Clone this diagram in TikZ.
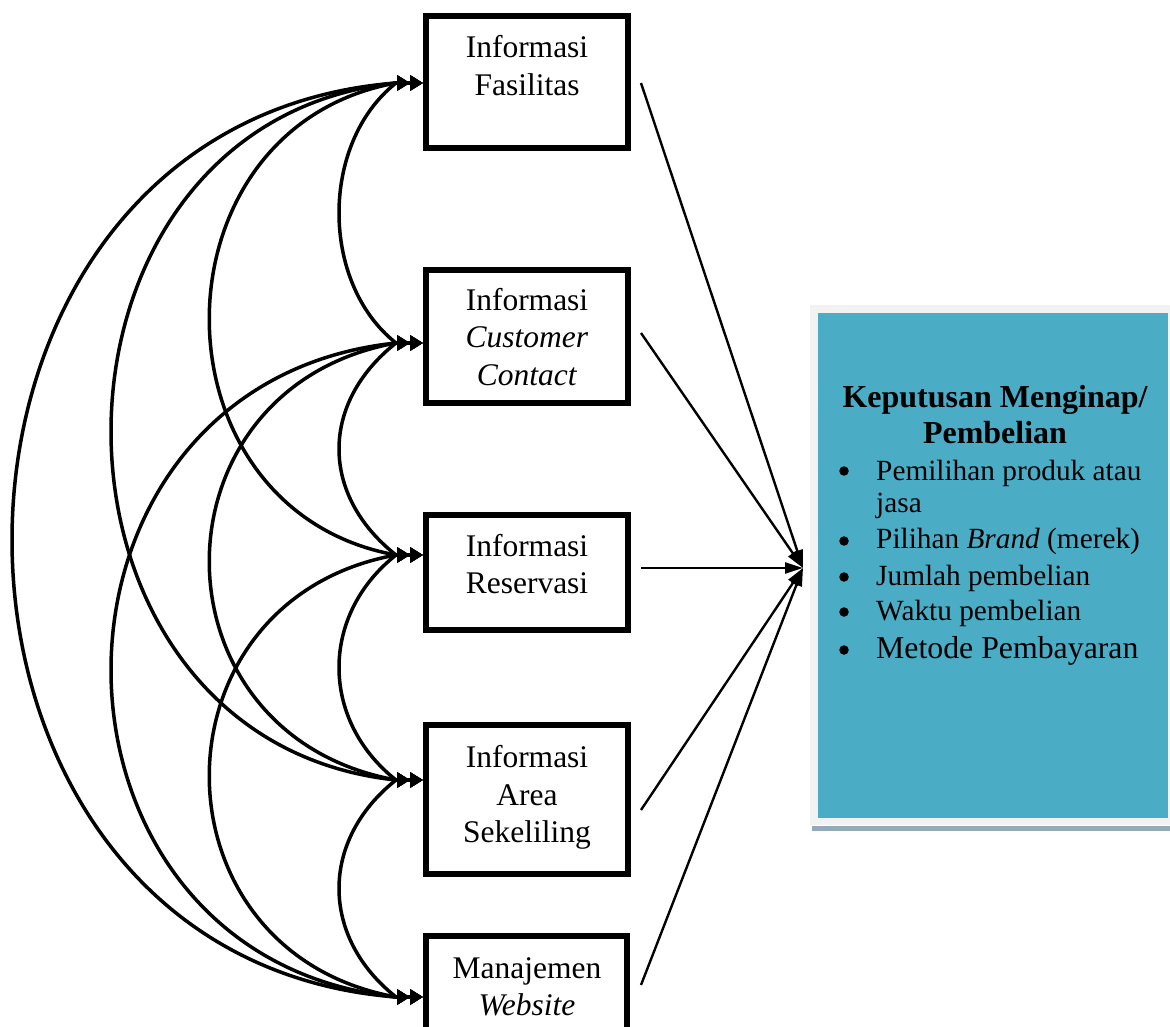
\documentclass[tikz,border=0pt]{standalone}
\usepackage{fontspec}
\setmainfont{Liberation Serif}
\usetikzlibrary{arrows.meta}
\definecolor{panelteal}{HTML}{4BACC6}
\definecolor{panelgray}{HTML}{F2F2F2}
\definecolor{panelshadow}{HTML}{93ABB8}
\tikzset{
  dbl/.tip={Triangle[length=13pt,width=15pt,sep=0pt]Triangle[length=13pt,width=15pt,sep=0pt]},
  infobox/.style={draw, line width=6pt, fill=white, inner sep=0pt},
  boxtext/.style={font=\fontsize{31.5}{37.5}\selectfont, anchor=base, inner sep=0pt},
  titletext/.style={font=\bfseries\fontsize{32}{38}\selectfont, anchor=base, inner sep=0pt},
  itemtext/.style={font=\fontsize{29.3}{35}\selectfont, anchor=base west, inner sep=0pt},
  bigitem/.style={font=\fontsize{31.8}{38}\selectfont, anchor=base west, inner sep=0pt},
  bulletdot/.style={circle, fill=black, inner sep=0pt, minimum size=9.5pt},
  corr/.style={line width=3.5pt, arrows=dbl-dbl},
  infl/.style={line width=2.4pt, -{Triangle[length=18pt,width=11pt]}},
}
\newcommand\corrarc[4]{\draw[corr] (in#1) -- (s#1) .. controls +(-#3,#4) and +(-#3,-#4) .. (s#2) -- (in#2);}
\begin{document}
\begin{tikzpicture}[x=1pt,y=-1pt]
\useasboundingbox (0,0) rectangle (1170,1027);
% right panel
\fill[panelshadow] (812,826) rectangle (1170,831);
\fill[panelgray] (810,305) rectangle (1170,825);
\node[fill=panelteal, inner sep=0pt, minimum width=350pt, minimum height=505pt, anchor=north west] (dec) at (818,313) {};
\node[titletext] (h1) at (995,407) {Keputusan Menginap/};
\node[titletext] (h2) at (995,443) {Pembelian};
\node[bulletdot] (d1) at (844,471) {};
\node[itemtext] (i1) at (876,480) {Pemilihan produk atau};
\node[itemtext] (i1b) at (876,512) {jasa};
\node[bulletdot] (d2) at (844,541) {};
\node[itemtext] (i2) at (876,548) {Pilihan \textit{Brand} (merek)};
\node[bulletdot] (d3) at (844,577) {};
\node[itemtext] (i3) at (876,585) {Jumlah pembelian};
\node[bulletdot] (d4) at (844,612) {};
\node[itemtext] (i4) at (876,620) {Waktu pembelian};
\node[bulletdot] (d5) at (844,650) {};
\node[bigitem] (i5) at (876,658) {Metode Pembayaran};
% boxes
\node[infobox, minimum width=202pt, minimum height=132pt] (b1) at (527,82) {};
\node[infobox, minimum width=202pt, minimum height=133pt] (b2) at (527,336.5) {};
\node[infobox, minimum width=202pt, minimum height=115pt] (b3) at (527,572.5) {};
\node[infobox, minimum width=202pt, minimum height=149pt] (b4) at (527,799.5) {};
\node[infobox, minimum width=201pt, minimum height=154pt] (b5) at (526.5,1013) {};
\node[boxtext] (t1a) at (527,57.5) {Informasi};
\node[boxtext] (t1b) at (527,95.5) {Fasilitas};
\node[boxtext] (t2a) at (527,310) {Informasi};
\node[boxtext] (t2b) at (527,347.5) {\textit{Customer}};
\node[boxtext] (t2c) at (527,385) {\textit{Contact}};
\node[boxtext] (t3a) at (527,556) {Informasi};
\node[boxtext] (t3b) at (527,593.5) {Reservasi};
\node[boxtext] (t4a) at (527,767) {Informasi};
\node[boxtext] (t4b) at (527,805) {Area};
\node[boxtext] (t4c) at (527,842) {Sekeliling};
\node[boxtext] (t5a) at (527,978.5) {Manajemen};
\node[boxtext] (t5b) at (527,1015) {\textit{Website}};
% connector anchors
\coordinate (in1) at (423,83);  \coordinate (s1) at (396,83);
\coordinate (in2) at (423,343); \coordinate (s2) at (396,343);
\coordinate (in3) at (423,555); \coordinate (s3) at (396,555);
\coordinate (in4) at (423,780); \coordinate (s4) at (396,780);
\coordinate (in5) at (423,997); \coordinate (s5) at (396,997);
\coordinate (o1) at (641,83);
\coordinate (o2) at (641,333);
\coordinate (o3) at (641,568);
\coordinate (o4) at (641,810);
\coordinate (o5) at (641,985);
\coordinate (conv) at (803,568);
% correlations
\corrarc{1}{2}{76}{60}
\corrarc{2}{3}{76}{60}
\corrarc{3}{4}{76}{60}
\corrarc{4}{5}{76}{60}
\corrarc{1}{3}{249}{45}
\corrarc{2}{4}{249}{45}
\corrarc{3}{5}{249}{45}
\corrarc{1}{4}{380}{40}
\corrarc{2}{5}{380}{40}
\corrarc{1}{5}{512}{40}
% influences
\draw[infl] (o1) -- (conv);
\draw[infl] (o2) -- (conv);
\draw[infl] (o3) -- (conv);
\draw[infl] (o4) -- (conv);
\draw[infl] (o5) -- (conv);
\end{tikzpicture}
\end{document}
